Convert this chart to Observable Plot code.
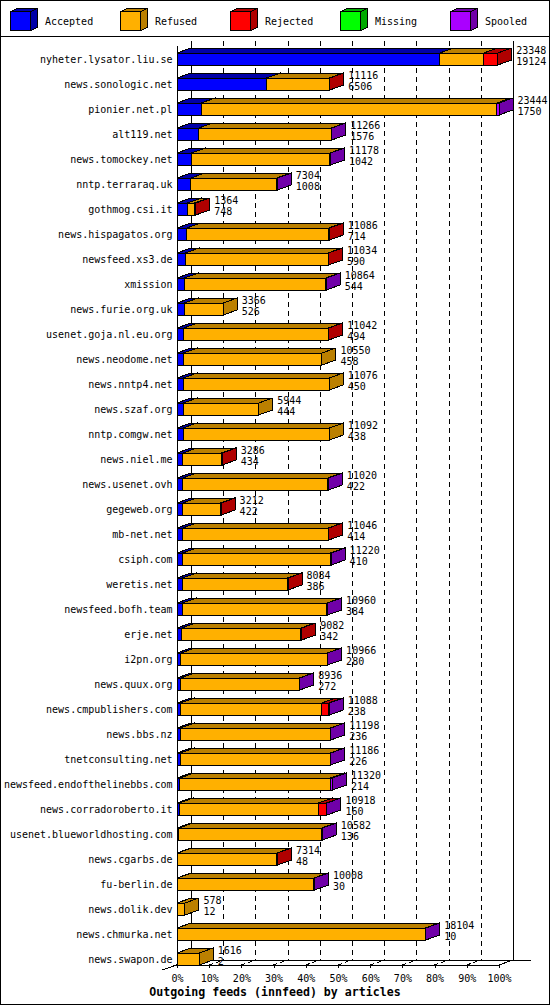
<!DOCTYPE html>
<html>
<head>
<meta charset="utf-8">
<script src="https://cdn.jsdelivr.net/npm/d3@7"></script>
<script src="https://cdn.jsdelivr.net/npm/@observablehq/plot@0.6"></script>
<style>
  html, body { margin: 0; padding: 0; background: #fff; }
  #frame { position: relative; width: 550px; height: 1005px; box-sizing: border-box; border: 1px solid #000; background: #fff; overflow: hidden; }
  #legend { height: 35px; border-bottom: 1px solid #000; }
  #legend svg, #chart svg { display: block; }
  #title { height: 20px; line-height: 17px; text-align: center; font-family: "DejaVu Sans Mono", monospace; font-weight: bold; font-size: 11.6px; color: #000; }
  #chart line, #chart rect, #chart polygon, #chart path, #legend rect, #legend polygon { shape-rendering: crispEdges; }
</style>
</head>
<body>
<div id="frame">
  <div id="legend"></div>
  <div id="chart"></div>
  <div id="title">Outgoing feeds (innfeed) by articles</div>
</div>
<script>
// ---- data ----
const categories = ["Accepted", "Refused", "Rejected", "Missing", "Spooled"];
const frontColors = ["#0000ff", "#ffb000", "#ff0000", "#00ff00", "#aa00ff"];
const darkColors  = ["#0000a8", "#bb8000", "#b00000", "#00aa00", "#7000a8"];

const hosts = [
  "nyheter.lysator.liu.se", "news.sonologic.net", "pionier.net.pl", "alt119.net",
  "news.tomockey.net", "nntp.terraraq.uk", "gothmog.csi.it", "news.hispagatos.org",
  "newsfeed.xs3.de", "xmission", "news.furie.org.uk", "usenet.goja.nl.eu.org",
  "news.neodome.net", "news.nntp4.net", "news.szaf.org", "nntp.comgw.net",
  "news.niel.me", "news.usenet.ovh", "gegeweb.org", "mb-net.net",
  "csiph.com", "weretis.net", "newsfeed.bofh.team", "erje.net",
  "i2pn.org", "news.quux.org", "news.cmpublishers.com", "news.bbs.nz",
  "tnetconsulting.net", "newsfeed.endofthelinebbs.com", "news.corradoroberto.it", "usenet.blueworldhosting.com",
  "news.cgarbs.de", "fu-berlin.de", "news.dolik.dev", "news.chmurka.net",
  "news.swapon.de"
];
const totals = [
  23348, 11116, 23444, 11266, 11178, 7304, 1364, 11086,
  11034, 10864, 3366, 11042, 10550, 11076, 5944, 11092,
  3286, 11020, 3212, 11046, 11220, 8084, 10960, 9082,
  10966, 8936, 11088, 11198, 11186, 11320, 10918, 10582,
  7314, 10008, 578, 18104, 1616
];
const accepted = [
  19124, 6506, 1750, 1576, 1042, 1008, 748, 714,
  590, 544, 526, 494, 458, 450, 444, 438,
  434, 422, 422, 414, 410, 386, 384, 342,
  280, 272, 238, 236, 226, 214, 160, 136,
  48, 30, 12, 10, 2
];
const refused = [
  3204, 4570, 21544, 9650, 10096, 6256, 536, 10332,
  10404, 10280, 2840, 10508, 10092, 10626, 5500, 10654,
  2812, 10558, 2750, 10592, 10770, 7658, 10536, 8680,
  10646, 8624, 10300, 10922, 10920, 10956, 10138, 10406,
  7226, 9938, 566, 18054, 1614
];
const rejected = [
  1020, 40, 0, 0, 0, 0, 80, 40,
  40, 0, 0, 40, 0, 0, 0, 0,
  40, 0, 40, 40, 0, 40, 0, 60,
  0, 0, 510, 0, 0, 0, 580, 0,
  40, 0, 0, 0, 0
];
const missing = [
  0, 0, 0, 0, 0, 0, 0, 0,
  0, 0, 0, 0, 0, 0, 0, 0,
  0, 0, 0, 0, 0, 0, 0, 0,
  0, 0, 0, 0, 0, 0, 0, 0,
  0, 0, 0, 0, 0
];
const spooled = [
  0, 0, 150, 40, 40, 40, 0, 0,
  0, 40, 0, 0, 0, 0, 0, 0,
  0, 40, 0, 0, 40, 0, 40, 0,
  40, 40, 40, 40, 40, 150, 40, 40,
  0, 40, 0, 40, 0
];
const tickPercents = [0, 10, 20, 30, 40, 50, 60, 70, 80, 90, 100];

// ---- derived tables ----
const series = {Accepted: accepted, Refused: refused, Rejected: rejected, Missing: missing, Spooled: spooled};
const segs = [];
hosts.forEach((h, i) => categories.forEach((c, k) => {
  const v = series[c][i];
  if (v > 0) segs.push({host: h, cat: c, k, value: v});
}));
const rows = hosts.map((h, i) => ({host: h, total: totals[i], accepted: accepted[i]}));
const maxTotal = d3.max(totals);
const tickValues = tickPercents.map(p => p / 100 * maxTotal);
const innerTicks = tickValues.slice(1, -1);

const DX = 14, DY = 5; // 3D depth offset in pixels
const FONT = "DejaVu Sans Mono";

// ---- legend ----
{
  const svg = d3.select("#legend").append("svg").attr("width", 548).attr("height", 35);
  categories.forEach((c, i) => {
    const g = svg.append("g").attr("transform", `translate(${9.5 + 110 * i},0)`);
    const fx = 0, fy = 10.5, fw = 20, fh = 19, dx = 7, dy = 3;
    g.append("polygon").attr("points", [[fx, fy], [fx + fw, fy], [fx + fw + dx, fy - dy], [fx + dx, fy - dy]].join(" "))
      .attr("fill", darkColors[i]).attr("stroke", "#000");
    g.append("polygon").attr("points", [[fx + fw, fy], [fx + fw + dx, fy - dy], [fx + fw + dx, fy + fh - dy], [fx + fw, fy + fh]].join(" "))
      .attr("fill", darkColors[i]).attr("stroke", "#000");
    g.append("rect").attr("x", fx).attr("y", fy).attr("width", fw).attr("height", fh)
      .attr("fill", frontColors[i]).attr("stroke", "#000");
    g.append("text").attr("x", 34.5).attr("y", 20).attr("dy", "0.35em")
      .attr("font-family", FONT).attr("font-size", 10).text(c);
  });
}

// ---- 3D bar mark (front/top/side faces from the library's scales) ----
function bars3d(index, scales, values) {
  let bw = scales.y.bandwidth;
  bw = typeof bw === "function" ? bw() : bw;
  const g = d3.create("svg:g").attr("stroke", "#000").attr("stroke-width", 1).attr("stroke-linejoin", "miter");
  for (const i of index) {
    const x1 = values.x1[i], x2 = values.x2[i], yt = values.y[i], yb = yt + bw;
    const k = segs[i].k;
    g.append("polygon").attr("points", [[x1, yt], [x2, yt], [x2 + DX, yt - DY], [x1 + DX, yt - DY]].join(" ")).attr("fill", darkColors[k]);
    g.append("polygon").attr("points", [[x2, yt], [x2 + DX, yt - DY], [x2 + DX, yb - DY], [x2, yb]].join(" ")).attr("fill", darkColors[k]);
    g.append("rect").attr("x", Math.min(x1, x2)).attr("y", yt).attr("width", Math.abs(x2 - x1)).attr("height", bw).attr("fill", frontColors[k]);
  }
  return g.node();
}

// ---- floor of the 3D box ----
function floor3d(index, scales, values, dimensions) {
  const yf = dimensions.height - dimensions.marginBottom, yb = yf - DY;
  const xs = Array.from(index, i => values.x[i]);
  const x0 = d3.min(xs), x1 = d3.max(xs);
  const g = d3.create("svg:g").attr("stroke", "#000").attr("fill", "none");
  g.append("line").attr("x1", x0 + DX).attr("x2", x1 + DX + 18).attr("y1", yb).attr("y2", yb);
  g.append("line").attr("x1", x0).attr("x2", x1).attr("y1", yf).attr("y2", yf);
  g.append("line").attr("x1", x0 - 15).attr("y1", yf + 5).attr("x2", x0 + DX).attr("y2", yb);
  g.append("line").attr("x1", x1).attr("y1", yf).attr("x2", x1 + DX).attr("y2", yb);
  for (const x of xs) {
    if (x === x0 || x === x1) continue;
    g.append("line").attr("x1", x).attr("y1", yf).attr("x2", x + DX).attr("y2", yb).attr("stroke-dasharray", "4,3");
  }
  return g.node();
}

const chart = Plot.plot({
  width: 548,
  height: 947,
  marginLeft: 176,
  marginRight: 50,
  marginTop: 9,
  marginBottom: 19,
  style: {fontFamily: FONT, fontSize: "10px", background: "#fff", color: "#000"},
  x: {domain: [0, maxTotal], axis: null},
  y: {domain: hosts, range: [9.5, 934.5], paddingInner: 0.52, paddingOuter: 0.26, axis: null},
  marks: [
    // back walls
    Plot.ruleX([0, maxTotal], {dx: DX, insetTop: -5, insetBottom: 5, stroke: "#000"}),
    // dashed grid on the back wall
    Plot.ruleX(innerTicks, {dx: DX, insetTop: -5, insetBottom: 5, stroke: "#000", strokeDasharray: "5,4"}),
    // front left edge
    Plot.ruleX([0], {insetTop: 0, insetBottom: -3, stroke: "#000"}),
    // floor
    Plot.ruleX(tickValues, {render: floor3d}),
    // 3D stacked bars
    Plot.barX(segs, Plot.stackX({x: "value", y: "host", z: "cat", order: null, render: bars3d})),
    // value labels
    Plot.text(rows, {x: "total", y: "host", text: d => String(d.total), dx: DX + 4, dy: -9, textAnchor: "start", fill: "#000"}),
    Plot.text(rows, {x: "total", y: "host", text: d => String(d.accepted), dx: DX + 4, dy: 2, textAnchor: "start", fill: "#000"}),
    // axes
    Plot.axisY({tickSize: 0, tickPadding: 5, label: null, fill: "#000"}),
    Plot.axisX({ticks: tickValues, tickFormat: d => Math.round(d / maxTotal * 100) + "%", tickSize: 3, tickPadding: 6, label: null, stroke: "#000", fill: "#000"})
  ]
});
document.getElementById("chart").appendChild(chart);
</script>
</body>
</html>
